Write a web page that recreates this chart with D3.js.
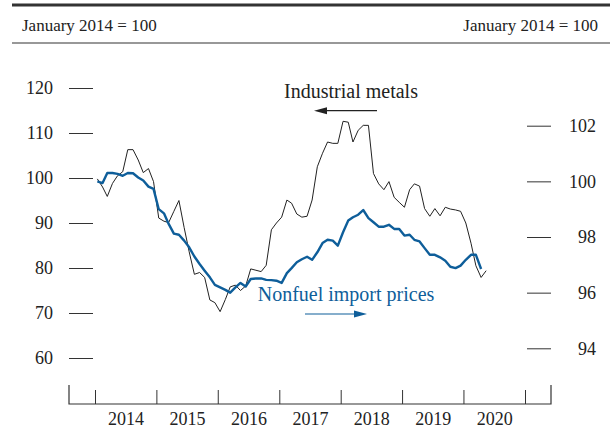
<!DOCTYPE html>
<html>
<head>
<meta charset="utf-8">
<script src="https://cdn.jsdelivr.net/npm/d3@7"></script>
<style>
  body { margin: 0; background: #fff; }
  svg { display: block; font-family: "Liberation Serif", "Times New Roman", serif; }
  .axis text { font-family: "Liberation Serif", serif; fill: #222; }
</style>
</head>
<body>
<svg id="chart"></svg>
<script>
// monthly values, Jan 2014 .. May 2020 (January 2014 = 100)
const metals = [
  99.8, 98.0, 95.9, 98.8, 100.5, 101.4, 106.3, 106.3, 104.0, 101.2, 102.1, 99.2,
  91.1, 90.4, 90.1, 92.6, 95.0, 89.0, 83.6, 78.6, 79.0, 77.9, 72.9, 72.3,
  70.3, 73.0, 75.8, 76.2, 75.0, 76.0, 79.8, 79.5, 79.2, 80.6, 88.5, 90.0,
  91.3, 95.1, 94.4, 92.0, 91.3, 91.5, 95.1, 102.5, 105.5, 108.0, 107.7, 107.7,
  112.6, 112.4, 108.0, 110.6, 111.7, 111.7, 101.0, 98.7, 97.4, 99.2, 95.7, 94.6,
  93.5, 97.4, 98.7, 98.2, 93.2, 91.5, 93.2, 91.6, 93.5, 93.1, 92.9, 92.6,
  90.0, 85.5, 80.5, 77.9, 79.4
];
// Jan 2014 .. Apr 2020, right axis
const nonfuel = [
  100.0, 99.94, 100.3, 100.3, 100.27, 100.2, 100.3, 100.29, 100.14, 100.03, 99.81, 99.73,
  99.0, 98.85, 98.47, 98.12, 98.08, 97.87, 97.63, 97.3, 97.03, 96.79, 96.55, 96.28,
  96.19, 96.1, 96.0, 96.19, 96.35, 96.22, 96.49, 96.51, 96.51, 96.46, 96.45, 96.43,
  96.35, 96.7, 96.88, 97.09, 97.2, 97.29, 97.18, 97.45, 97.78, 97.9, 97.87, 97.69,
  98.17, 98.59, 98.71, 98.8, 98.97, 98.68, 98.53, 98.37, 98.37, 98.44, 98.29, 98.29,
  98.05, 98.08, 97.9, 97.84, 97.6, 97.36, 97.36, 97.27, 97.15, 96.93, 96.88, 96.97,
  97.18, 97.36, 97.36, 96.85
];
const years = [2014, 2015, 2016, 2017, 2018, 2019, 2020];
const leftTicks = [60, 70, 80, 90, 100, 110, 120];
const rightTicks = [94, 96, 98, 100, 102];
const headerText = "January 2014 = 100";

const W = 610, H = 433;
const blue = "#0e5e9a";

const svg = d3.select("#chart").attr("width", W).attr("height", H);

const monthDate = i => new Date(2014, i, 15);

const x = d3.scaleTime()
  .domain([new Date(2014, 0, 1), new Date(2021, 0, 1)])
  .range([95, 525]);
const yL = d3.scaleLinear().domain([60, 120]).range([358, 88]);
const yR = d3.scaleLinear().domain([94, 102]).range([348.3, 125.7]);

// header rules
svg.append("line").attr("x1", 12).attr("x2", W).attr("y1", 5).attr("y2", 5)
  .attr("stroke", "#333").attr("stroke-width", 3);
svg.append("line").attr("x1", 12).attr("x2", W).attr("y1", 43).attr("y2", 43)
  .attr("stroke", "#333").attr("stroke-width", 1.2);
svg.append("text").attr("x", 22).attr("y", 31)
  .style("font-size", "17px").style("fill", "#222").text(headerText);
svg.append("text").attr("x", 598).attr("y", 31).attr("text-anchor", "end")
  .style("font-size", "17px").style("fill", "#222").text(headerText);

// left axis
const leftAxis = d3.axisLeft(yL).tickValues(leftTicks).tickSize(24).tickPadding(16);
svg.append("g").attr("class", "axis")
  .attr("transform", "translate(93,0)")
  .call(leftAxis)
  .call(g => g.select(".domain").remove())
  .call(g => g.selectAll("line").attr("stroke", "#333"))
  .call(g => g.selectAll("text").style("font-size", "18px"));

// right axis
const rightAxis = d3.axisRight(yR).tickValues(rightTicks).tickSize(24);
svg.append("g").attr("class", "axis")
  .attr("transform", "translate(527,0)")
  .call(rightAxis)
  .call(g => g.select(".domain").remove())
  .call(g => g.selectAll("line").attr("stroke", "#333"))
  .call(g => g.selectAll("text").attr("x", 69).attr("text-anchor", "end")
    .style("font-size", "18px"));

// bottom axis: boundaries at January, labels mid-year
const xLeft = 69, xRight = 551, baseY = 404;
const bounds = d3.range(2014, 2022).map(yr => new Date(yr, 0, 1));
const xAxis = d3.axisTop(x).tickValues(bounds).tickSize(14).tickFormat("");
svg.append("g").attr("class", "axis")
  .attr("transform", `translate(0,${baseY})`)
  .call(xAxis)
  .call(g => g.select(".domain").remove())
  .call(g => g.selectAll("line").attr("stroke", "#333"));
svg.append("path")
  .attr("d", `M${xLeft},${baseY - 19}V${baseY}H${xRight}V${baseY - 19}`)
  .attr("fill", "none").attr("stroke", "#333").attr("stroke-width", 1.2);
const xLabels = d3.axisBottom(x).tickValues(years.map(yr => new Date(yr, 6, 2)))
  .tickSize(0).tickPadding(8).tickFormat(d3.timeFormat("%Y"));
svg.append("g").attr("class", "axis")
  .attr("transform", `translate(0,${baseY})`)
  .call(xLabels)
  .call(g => g.select(".domain").remove())
  .call(g => g.selectAll("text").style("font-size", "18px"));

// lines
const metalLine = d3.line().x((d, i) => x(monthDate(i))).y(d => yL(d));
const nonfuelLine = d3.line().x((d, i) => x(monthDate(i))).y(d => yR(d));

svg.append("path").datum(metals)
  .attr("d", metalLine).attr("fill", "none")
  .attr("stroke", "#222").attr("stroke-width", 1);
svg.append("path").datum(nonfuel)
  .attr("d", nonfuelLine).attr("fill", "none")
  .attr("stroke", blue).attr("stroke-width", 2.4).attr("stroke-linejoin", "round");

// annotations
function arrow(x1, x2, y, color) {
  const dir = Math.sign(x2 - x1);
  svg.append("line").attr("x1", x1).attr("x2", x2 - dir * 10).attr("y1", y).attr("y2", y)
    .attr("stroke", color).attr("stroke-width", 1.2);
  svg.append("path")
    .attr("d", `M${x2},${y}L${x2 - dir * 13},${y - 3.5}L${x2 - dir * 13},${y + 3.5}Z`)
    .attr("fill", color);
}
svg.append("text").attr("x", 351).attr("y", 98).attr("text-anchor", "middle")
  .style("font-size", "20px").style("fill", "#222").text("Industrial metals");
arrow(377, 314, 110.7, "#222");

svg.append("text").attr("x", 346).attr("y", 300.5).attr("text-anchor", "middle")
  .style("font-size", "20px").style("fill", blue).text("Nonfuel import prices");
arrow(305, 367, 314, blue);
</script>
</body>
</html>
